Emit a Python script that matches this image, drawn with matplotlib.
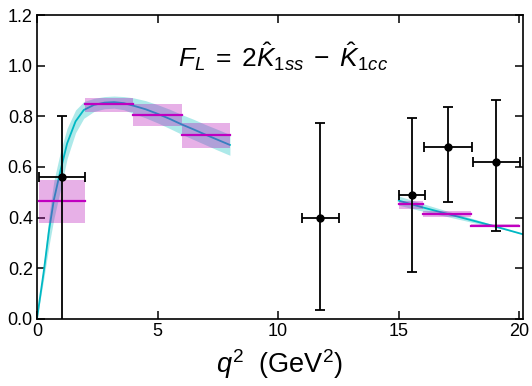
import matplotlib
matplotlib.use("Agg")
import matplotlib.pyplot as plt
import numpy as np
from matplotlib.patches import Rectangle

plt.rcParams["font.family"] = ["Liberation Sans", "DejaVu Sans"]
plt.rcParams["mathtext.fontset"] = "custom"
plt.rcParams["mathtext.rm"] = "Liberation Sans"
plt.rcParams["mathtext.it"] = "Liberation Sans:italic"
plt.rcParams["mathtext.bf"] = "Liberation Sans:bold"

# measured points: q2 centre, half bin width, value, upper/lower edges
meas_q2 = [1.05, 11.75, 15.55, 17.05, 19.05]
meas_q2_err = [0.95, 0.77, 0.52, 0.99, 0.99]
meas_val = [0.56, 0.40, 0.49, 0.68, 0.62]
meas_hi = [0.80, 0.775, 0.792, 0.836, 0.863]
meas_lo = [-0.2, 0.035, 0.184, 0.463, 0.345]

# binned predictions: bin edges, central value, band
bin_lo = [0.1, 2.0, 4.0, 6.0, 15.0, 16.0, 18.0]
bin_hi = [2.0, 4.0, 6.0, 8.0, 16.0, 18.0, 20.0]
bin_val = [0.465, 0.848, 0.806, 0.725, 0.453, 0.416, 0.368]
bin_up = [0.549, 0.871, 0.848, 0.775, 0.466, 0.425, 0.375]
bin_dn = [0.380, 0.817, 0.763, 0.676, 0.433, 0.401, 0.361]

# continuous prediction, low q2 region
low_q2 = [0.0, 0.29, 0.5, 0.7, 0.98, 1.25, 1.6, 1.94, 2.36, 2.8, 3.2, 3.6,
          4.0, 4.5, 5.0, 5.5, 6.0, 6.5, 7.0, 7.5, 8.0]
low_fl = [0.0, 0.193, 0.35, 0.47, 0.588, 0.693, 0.78, 0.825, 0.845, 0.854, 0.856, 0.852,
          0.842, 0.828, 0.81, 0.79, 0.768, 0.748, 0.727, 0.707, 0.687]
low_err = [0.0, 0.03, 0.06, 0.075, 0.075, 0.06, 0.045, 0.033, 0.026, 0.024, 0.024, 0.026,
           0.031, 0.034, 0.036, 0.038, 0.039, 0.04, 0.04, 0.041, 0.041]

# continuous prediction, high q2 region
high_q2 = [15.0, 16.0, 17.0, 18.0, 19.0, 20.15]
high_fl = [0.467, 0.440, 0.415, 0.390, 0.365, 0.334]
high_err = [0.018, 0.015, 0.011, 0.008, 0.004, 0.0]

line_c = "#00b8c4"
band_c = "#00bcbc"
box_c = "#b400b4"
mag_c = "#c000c0"

fig = plt.figure(figsize=(5.32, 3.86), dpi=100)
ax = fig.add_axes([0.0695, 0.174, 0.9135, 0.787])

for q, f, e in [(low_q2, low_fl, low_err), (high_q2, high_fl, high_err)]:
    q = np.array(q)
    f = np.array(f)
    e = np.array(e)
    ax.fill_between(q, f - e, f + e, color=band_c, alpha=0.32, lw=0, zorder=1)
    ax.plot(q, f, color=line_c, lw=1.3, zorder=2)

for lo, hi, v, up, dn in zip(bin_lo, bin_hi, bin_val, bin_up, bin_dn):
    ax.add_patch(Rectangle((lo, dn), hi - lo, up - dn, facecolor=box_c,
                           alpha=0.31, lw=0, zorder=3))
    ax.plot([lo, hi], [v, v], color=mag_c, lw=1.6, zorder=4)

yerr = [np.array(meas_val) - np.array(meas_lo), np.array(meas_hi) - np.array(meas_val)]
ax.errorbar(meas_q2, meas_val, xerr=meas_q2_err, yerr=yerr, fmt="o", color="black",
            ms=5, lw=1.3, capsize=3.5, capthick=1.3, zorder=5)

ax.text(10.2, 0.995, r"$F_L\;=\;2\hat{K}_{1ss}\;-\;\hat{K}_{1cc}$", fontsize=19,
        ha="center", va="baseline")

ax.set_xlim(0, 20.15)
ax.set_ylim(0, 1.2)
ax.set_xticks([0, 5, 10, 15, 20])
ax.set_yticks([0.0, 0.2, 0.4, 0.6, 0.8, 1.0, 1.2])
ax.set_yticklabels(["0.0", "0.2", "0.4", "0.6", "0.8", "1.0", "1.2"])
ax.tick_params(direction="in", length=5.5, width=1.1, top=True, right=True,
               labelsize=13, pad=3)
for s in ax.spines.values():
    s.set_linewidth(1.2)
ax.set_xlabel(r"$q^2$  (GeV$^2$)", fontsize=19.5, labelpad=5)

fig.savefig("out.png", dpi=100)
